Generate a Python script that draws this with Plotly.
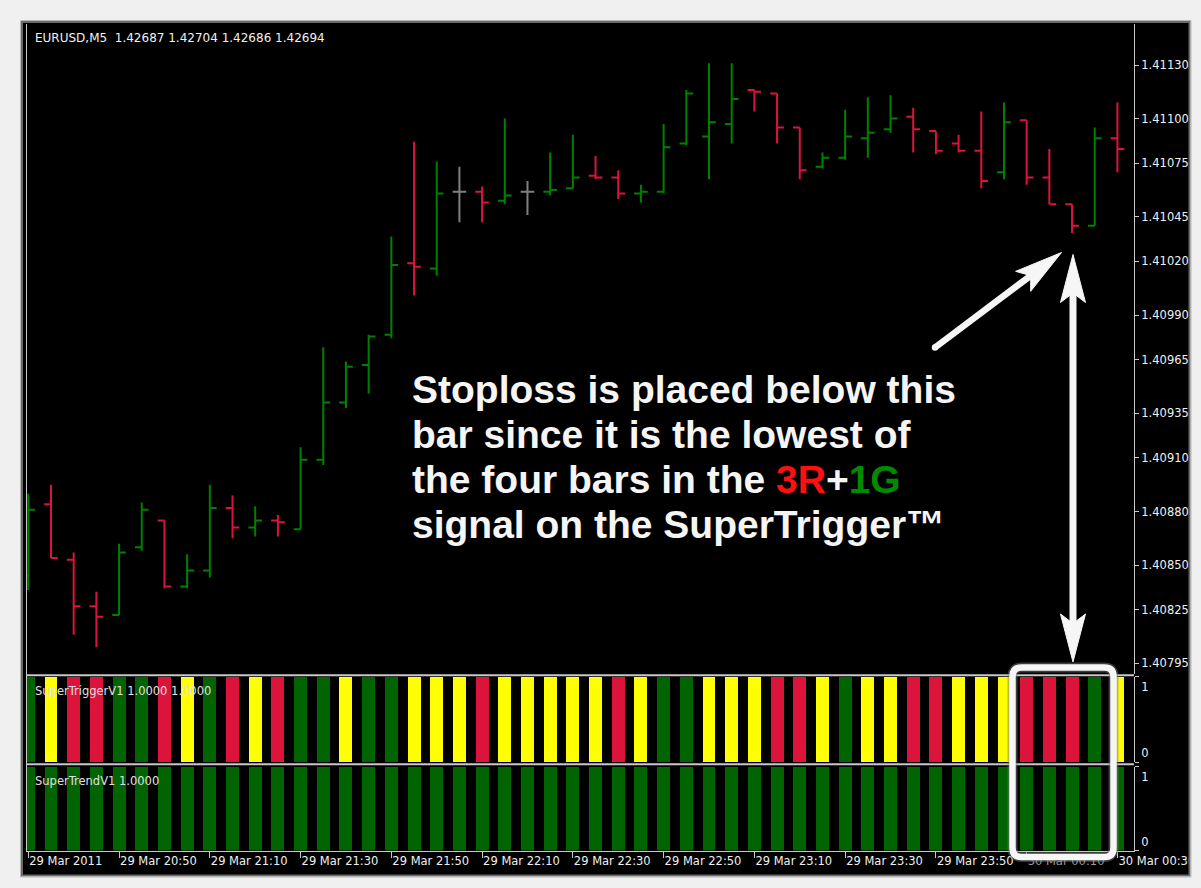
import plotly.graph_objects as go

# ---------------- data ----------------
bar_index = list(range(49))

open_ = [1.40844, 1.40884, 1.40853, 1.40827, 1.40822, 1.40860, 1.40875, 1.40838, 1.40847, 1.40882,
         1.40871, 1.40875, 1.40870, 1.40909, 1.40941, 1.40962, 1.40979, 1.41019, 1.41016, 1.41059,
         1.41059, 1.41054, 1.41059, 1.41059, 1.41061, 1.41068, 1.41067, 1.41058, 1.41059, 1.41086,
         1.41090, 1.41097, 1.41116, 1.41114, 1.41095, 1.41073, 1.41078, 1.41089, 1.41094, 1.41101,
         1.41093, 1.41086, 1.41082, 1.41070, 1.41099, 1.41067, 1.41052, 1.41040, 1.41089]
high_ = [1.40890, 1.40895, 1.40857, 1.40835, 1.40862, 1.40885, 1.40875, 1.40856, 1.40895, 1.40889,
         1.40883, 1.40878, 1.40916, 1.40972, 1.40964, 1.40979, 1.41034, 1.41087, 1.41076, 1.41073,
         1.41062, 1.41100, 1.41065, 1.41081, 1.41091, 1.41079, 1.41071, 1.41063, 1.41097, 1.41116,
         1.41131, 1.41131, 1.41116, 1.41114, 1.41095, 1.41081, 1.41105, 1.41112, 1.41113, 1.41106,
         1.41093, 1.41091, 1.41104, 1.41109, 1.41099, 1.41083, 1.41052, 1.41095, 1.41109]
low_ = [1.40836, 1.40854, 1.40811, 1.40804, 1.40822, 1.40858, 1.40837, 1.40837, 1.40843, 1.40865,
        1.40866, 1.40866, 1.40870, 1.40906, 1.40938, 1.40946, 1.40977, 1.41001, 1.41012, 1.41042,
        1.41042, 1.41052, 1.41046, 1.41057, 1.41061, 1.41066, 1.41055, 1.41053, 1.41058, 1.41085,
        1.41066, 1.41086, 1.41104, 1.41086, 1.41066, 1.41072, 1.41077, 1.41078, 1.41092, 1.41081,
        1.41080, 1.41081, 1.41061, 1.41066, 1.41063, 1.41052, 1.41036, 1.41040, 1.41070]
close_ = [1.40881, 1.40854, 1.40827, 1.40821, 1.40857, 1.40881, 1.40838, 1.40847, 1.40882, 1.40871,
          1.40875, 1.40874, 1.40909, 1.40941, 1.40961, 1.40978, 1.41018, 1.41017, 1.41058, 1.41059,
          1.41053, 1.41057, 1.41059, 1.41060, 1.41067, 1.41067, 1.41058, 1.41059, 1.41084, 1.41114,
          1.41098, 1.41111, 1.41115, 1.41095, 1.41071, 1.41078, 1.41090, 1.41092, 1.41100, 1.41094,
          1.41082, 1.41082, 1.41065, 1.41098, 1.41067, 1.41052, 1.41040, 1.41089, 1.41083]

# SuperTrigger histogram: G = green, Y = yellow, R = red
supertrigger_signal = ["G", "Y", "R", "R", "G", "G", "R", "Y", "G", "R",
                       "Y", "R", "G", "G", "Y", "G", "G", "Y", "Y", "Y",
                       "R", "Y", "Y", "Y", "Y", "Y", "R", "Y", "G", "G",
                       "Y", "Y", "Y", "R", "R", "Y", "G", "Y", "Y", "R",
                       "R", "Y", "Y", "Y", "R", "R", "R", "G", "Y"]
supertrigger_value = [1, 1, 1, 1, 1, 1, 1, 1, 1, 1, 1, 1, 1, 1, 1, 1, 1, 1, 1, 1, 1, 1, 1, 1, 1,
                      1, 1, 1, 1, 1, 1, 1, 1, 1, 1, 1, 1, 1, 1, 1, 1, 1, 1, 1, 1, 1, 1, 1, 1]
supertrend_signal = ["G"] * 49
supertrend_value = [1, 1, 1, 1, 1, 1, 1, 1, 1, 1, 1, 1, 1, 1, 1, 1, 1, 1, 1, 1, 1, 1, 1, 1, 1,
                    1, 1, 1, 1, 1, 1, 1, 1, 1, 1, 1, 1, 1, 1, 1, 1, 1, 1, 1, 1, 1, 1, 1, 1]

price_tick_values = [1.41130, 1.41100, 1.41075, 1.41045, 1.41020, 1.40990, 1.40965,
                     1.40935, 1.40910, 1.40880, 1.40850, 1.40825, 1.40795]
price_tick_labels = ["1.41130", "1.41100", "1.41075", "1.41045", "1.41020", "1.40990", "1.40965",
                     "1.40935", "1.40910", "1.40880", "1.40850", "1.40825", "1.40795"]
time_tick_index = [0, 4, 8, 12, 16, 20, 24, 28, 32, 36, 40, 44, 48]
time_tick_labels = ["29 Mar 2011", "29 Mar 20:50", "29 Mar 21:10", "29 Mar 21:30", "29 Mar 21:50",
                    "29 Mar 22:10", "29 Mar 22:30", "29 Mar 22:50", "29 Mar 23:10", "29 Mar 23:30",
                    "29 Mar 23:50", "30 Mar 00:10", "30 Mar 00:30"]

title_text = "EURUSD,M5\u00a0 1.42687 1.42704 1.42686 1.42694"
pane1_label = "SuperTriggerV1 1.0000 1.0000"
pane2_label = "SuperTrendV1 1.0000"
note_lines = [
    "Stoploss is placed below this",
    "bar since it is the lowest of",
    "the four bars in the <span style='color:#ff1010'>3R</span>+<span style='color:#008a00'>1G</span>",
    "signal on the SuperTrigger\u2122",
]

# ---------------- layout geometry (pixels) ----------------
W, H = 1201, 888
def px(x):
    return x / W
def py(y):
    return 1 - y / H

first_bar_px, bar_step_px = 28.3, 22.69
plot_left, plot_right = 26, 1134
main_top, main_bottom = 24, 674
p1_top, p1_bottom = 676.5, 762
p2_top, p2_bottom = 766.5, 850.5
ref_price, ref_px, px_per_price = 1.41130, 65.0, 178600.0

x_range = [(plot_left - first_bar_px) / bar_step_px, (plot_right - first_bar_px) / bar_step_px]
y_range = [ref_price - (main_bottom - ref_px) / px_per_price, ref_price + (ref_px - main_top) / px_per_price]

GREEN, RED, GREY = "#008000", "#dc143c", "#808080"
HIST = {"G": "#006400", "Y": "#ffff00", "R": "#dc143c"}
AX = "#c8c8c8"
TXT = "#f0f0f0"
FONT = "DejaVu Sans"

fig = go.Figure()

# OHLC bars grouped by direction
def direction(o, c):
    return "up" if c > o else ("down" if c < o else "flat")

for key, col in (("up", GREEN), ("down", RED), ("flat", GREY)):
    idx = [i for i in bar_index if direction(open_[i], close_[i]) == key]
    fig.add_trace(go.Ohlc(
        x=idx,
        open=[open_[i] for i in idx], high=[high_[i] for i in idx],
        low=[low_[i] for i in idx], close=[close_[i] for i in idx],
        increasing=dict(line=dict(color=col, width=2)),
        decreasing=dict(line=dict(color=col, width=2)),
        tickwidth=0.3, xaxis="x", yaxis="y", hoverinfo="skip", showlegend=False))

fig.add_trace(go.Bar(x=bar_index, y=supertrigger_value, width=0.57,
                     marker=dict(color=[HIST[s] for s in supertrigger_signal], line=dict(width=0)),
                     xaxis="x", yaxis="y2", hoverinfo="skip", showlegend=False))
fig.add_trace(go.Bar(x=bar_index, y=supertrend_value, width=0.57,
                     marker=dict(color=[HIST[s] for s in supertrend_signal], line=dict(width=0)),
                     xaxis="x", yaxis="y3", hoverinfo="skip", showlegend=False))
# empty helpers so overlay axes get drawn
fig.add_trace(go.Scatter(x=[], y=[], xaxis="x", yaxis="y4", showlegend=False, hoverinfo="skip"))
fig.add_trace(go.Scatter(x=[], y=[], xaxis="x", yaxis="y5", showlegend=False, hoverinfo="skip"))

tickfont = dict(family=FONT, size=11.5, color=TXT)

def pane_axis(top, bottom, val, txt, shift):
    return dict(domain=[py(bottom), py(top)], range=[0, 1], side="right", anchor="x",
                tickvals=[val], ticktext=[txt], ticks="outside", ticklen=4, tickcolor=AX,
                ticklabelshift=shift, tickfont=tickfont,
                showline=True, linecolor=AX, linewidth=1, showgrid=False, zeroline=False,
                fixedrange=True, automargin=False)

fig.update_layout(
    width=W, height=H, margin=dict(l=0, r=0, t=0, b=0, pad=0, autoexpand=False),
    paper_bgcolor="#f0f0f0", plot_bgcolor="#000000",
    bargap=0, showlegend=False,
    xaxis=dict(domain=[px(plot_left), px(plot_right)], range=x_range, anchor="y3",
               tickvals=time_tick_index,
               ticktext=[t if t != "30 Mar 00:10" else "<span style='color:#9a9a9a'>" + t + "</span>"
                         for t in time_tick_labels],
               ticks="outside", ticklen=6, tickcolor=AX, ticklabelposition="outside right",
               tickfont=tickfont, showline=True, linecolor=AX, linewidth=1, automargin=False,
               showgrid=False, zeroline=False, rangeslider=dict(visible=False), fixedrange=True),
    yaxis=dict(domain=[py(main_bottom), py(main_top)], range=y_range, side="right", anchor="x",
               tickvals=price_tick_values, ticktext=price_tick_labels, ticks="outside", ticklen=4,
               tickcolor=AX, tickfont=tickfont, showline=True, linecolor=AX, linewidth=1,
               showgrid=False, zeroline=False, fixedrange=True, automargin=False),
    yaxis2=pane_axis(p1_top, p1_bottom, 1, "1", 10),
    yaxis4=dict(pane_axis(p1_top, p1_bottom, 0, "0", -9), overlaying="y2", showline=False),
    yaxis3=pane_axis(p2_top, p2_bottom, 1, "1", 10),
    yaxis5=dict(pane_axis(p2_top, p2_bottom, 0, "0", -9), overlaying="y3", showline=False),
)

shapes = []
# chart window background and frame
shapes.append(dict(type="rect", xref="paper", yref="paper", x0=px(22), x1=px(1189), y0=py(875), y1=py(22),
                   fillcolor="#000000", line=dict(width=0), layer="below"))
# cover for text running past the window frame
shapes.append(dict(type="rect", xref="paper", yref="paper", x0=px(1190), x1=1, y0=0, y1=1,
                   fillcolor="#f0f0f0", line=dict(width=0), layer="above"))
shapes.append(dict(type="rect", xref="paper", yref="paper", x0=px(22), x1=px(1189.5), y0=py(875.5), y1=py(22),
                   line=dict(color="#6a6a6a", width=2), layer="above"))
shapes.append(dict(type="rect", xref="paper", yref="paper", x0=px(20.5), x1=px(1191), y0=py(877), y1=py(20.5),
                   line=dict(color="#b8b8b8", width=1), layer="above"))
# pane separators and left border
for yy in (675.2, 764.2):
    shapes.append(dict(type="line", xref="paper", yref="paper", x0=px(plot_left), x1=px(plot_right),
                       y0=py(yy), y1=py(yy), line=dict(color=AX, width=2), layer="above"))
shapes.append(dict(type="line", xref="paper", yref="paper", x0=px(26.5), x1=px(26.5),
                   y0=py(851), y1=py(24), line=dict(color=AX, width=1), layer="above"))

# rounded highlight box
bx0, bx1, by0, by1, r = 1012.5, 1113.5, 667.5, 857.0, 9
def P(x, y):
    return f"{px(x):.6f},{py(y):.6f}"
box_path = (f"M{P(bx0 + r, by0)} L{P(bx1 - r, by0)} Q{P(bx1, by0)} {P(bx1, by0 + r)} "
            f"L{P(bx1, by1 - r)} Q{P(bx1, by1)} {P(bx1 - r, by1)} "
            f"L{P(bx0 + r, by1)} Q{P(bx0, by1)} {P(bx0, by1 - r)} "
            f"L{P(bx0, by0 + r)} Q{P(bx0, by0)} {P(bx0 + r, by0)} Z")
shapes.append(dict(type="path", xref="paper", yref="paper", path=box_path,
                   line=dict(color="rgba(120,120,120,0.5)", width=10), layer="above"))
shapes.append(dict(type="path", xref="paper", yref="paper", path=box_path,
                   line=dict(color="#f6f6f6", width=6.5), layer="above"))

# arrows
ARROW = "#f6f6f6"
def arrow(tail, tip, shaft_w, head_len=48, head_half=12.5, notch=40, double=False):
    tx, ty = tail
    hx, hy = tip
    L = ((hx - tx) ** 2 + (hy - ty) ** 2) ** 0.5
    ux, uy = (hx - tx) / L, (hy - ty) / L
    out = []
    def head(cx, cy, sx, sy):
        pts = [(cx, cy),
               (cx - head_len * sx + head_half * -sy, cy - head_len * sy + head_half * sx),
               (cx - notch * sx + 2 * -sy, cy - notch * sy + 2 * sx),
               (cx - notch * sx - 2 * -sy, cy - notch * sy - 2 * sx),
               (cx - head_len * sx - head_half * -sy, cy - head_len * sy - head_half * sx)]
        path = "M" + " L".join(P(a, b) for a, b in pts) + " Z"
        return dict(type="path", xref="paper", yref="paper", path=path, fillcolor=ARROW,
                    line=dict(color=ARROW, width=1), layer="above")
    s_end = (hx - (notch - 2) * ux, hy - (notch - 2) * uy)
    s_start = (tx + (notch - 2) * ux, ty + (notch - 2) * uy) if double else (tx, ty)
    out.append(dict(type="line", xref="paper", yref="paper", x0=px(s_start[0]), y0=py(s_start[1]),
                    x1=px(s_end[0]), y1=py(s_end[1]), line=dict(color=ARROW, width=shaft_w), layer="above"))
    out.append(head(hx, hy, ux, uy))
    if double:
        out.append(head(tx, ty, -ux, -uy))
    else:
        rr = shaft_w / 2
        out.append(dict(type="circle", xref="paper", yref="paper", x0=px(tx - rr), x1=px(tx + rr),
                        y0=py(ty + rr), y1=py(ty - rr), fillcolor=ARROW, line=dict(width=0), layer="above"))
    return out

shapes += arrow((935, 347.5), (1061.5, 252.5), 6.5)
shapes += arrow((1073, 662), (1073, 254.5), 7, double=True)

fig.update_layout(shapes=shapes)

annotations = [
    dict(text=title_text, x=px(33), y=py(38), xref="paper", yref="paper", xanchor="left", yanchor="middle",
         showarrow=False, font=dict(family=FONT, size=12, color=TXT)),
    dict(text=pane1_label, x=px(33), y=py(691), xref="paper", yref="paper", xanchor="left", yanchor="middle",
         showarrow=False, font=dict(family=FONT, size=11.5, color="#e0e0e0")),
    dict(text=pane2_label, x=px(33), y=py(781), xref="paper", yref="paper", xanchor="left", yanchor="middle",
         showarrow=False, font=dict(family=FONT, size=11.5, color="#e0e0e0")),
]
note_centers = [389, 434, 479, 524]
for line, yc in zip(note_lines, note_centers):
    annotations.append(dict(text=line, x=px(410), y=py(yc), xref="paper", yref="paper",
                            xanchor="left", yanchor="middle", showarrow=False,
                            font=dict(family="Liberation Sans, Arial", size=39, color="#f5f5f5",
                                      weight="bold")))
fig.update_layout(annotations=annotations)

fig.write_html("out.html", config=dict(displayModeBar=False),
               post_script="document.body.style.margin='0';document.body.style.overflow='hidden';")
